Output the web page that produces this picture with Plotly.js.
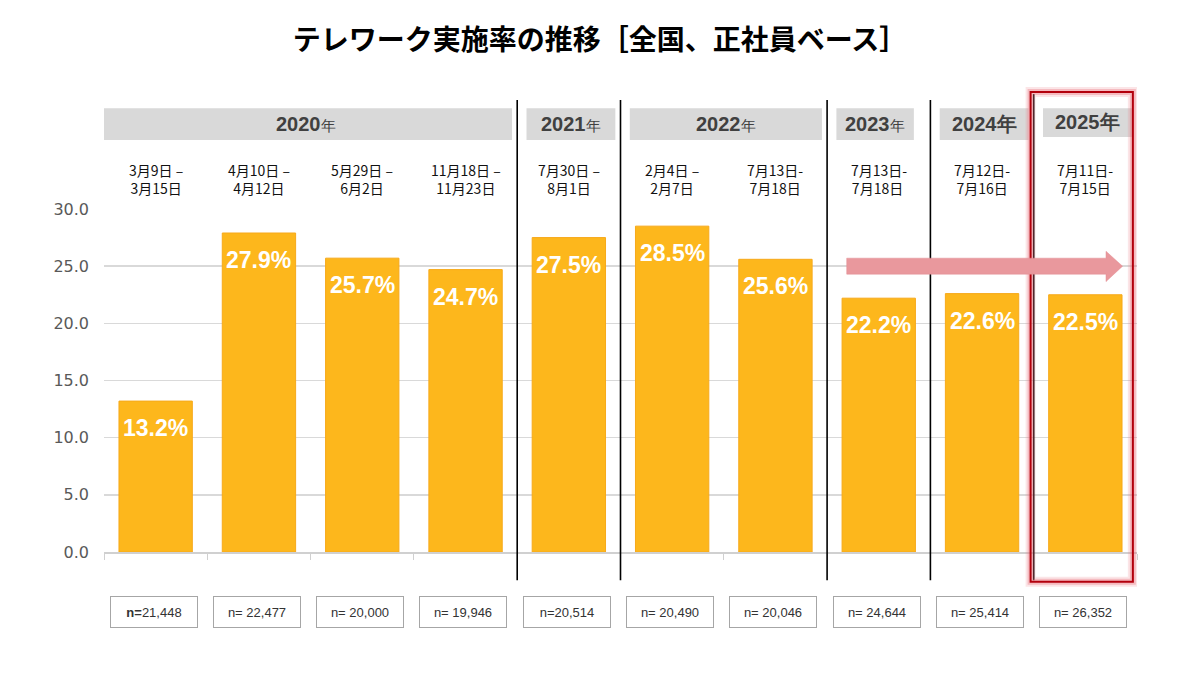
<!DOCTYPE html>
<html>
<head>
<meta charset="utf-8">
<script src="https://cdn.plot.ly/plotly-3.0.1.min.js"></script>
<style>
  html, body { margin: 0; padding: 0; background: #ffffff; }
  #chart { width: 1200px; height: 675px; }
</style>
</head>
<body>
<div id="chart"></div>
<script>
// 調査期間（2行）
const periods = [
    '3月9日 –<br>3月15日',
    '4月10日 –<br>4月12日',
    '5月29日 –<br>6月2日',
    '11月18日 –<br>11月23日',
    '7月30日 –<br>8月1日',
    '2月4日 –<br>2月7日',
    '7月13日-<br>7月18日',
    '7月13日-<br>7月18日 ',
    '7月12日-<br>7月16日',
    '7月11日-<br>7月15日'
];
// テレワーク実施率（%）
const rates = [13.2, 27.9, 25.7, 24.7, 27.5, 28.5, 25.6, 22.2, 22.6, 22.5];
// サンプル数
const samples = ['<b>n=</b>21,448', 'n= 22,477', 'n= 20,000', 'n= 19,946', 'n=20,514',
    'n= 20,490', 'n= 20,046', 'n= 24,644', 'n= 25,414', 'n= 26,352'];
// 年グループ
const years = ['2020', '2021', '2022', '2023', '2024', '2025'];
const yearFirst = [0, 4, 5, 7, 8, 9];
const yearLast = [3, 4, 6, 7, 8, 9];
const yearBoldSuffix = [false, false, false, false, true, true];

const yTicks = [0, 5, 10, 15, 20, 25, 30];

const cjk = '"Noto Sans CJK JP", "Noto Sans", sans-serif';
const narrow = '"Liberation Sans Narrow", "Arial Narrow", "Liberation Sans", sans-serif';

const barTrace = {
    type: 'bar',
    x: periods,
    y: rates,
    marker: { color: '#fdb71c', line: { color: '#f7a91a', width: 1 } },
    hoverinfo: 'skip',
    showlegend: false
};

const annotations = [];
const shapes = [];

// 棒の中の数値
rates.forEach((v, i) => {
    annotations.push({
        x: i, y: v, xref: 'x', yref: 'y',
        text: '<b>' + v.toFixed(1) + '%</b>',
        showarrow: false, yanchor: 'middle', yshift: -27,
        font: { family: '"Liberation Sans", Arial, sans-serif', size: 23, color: '#ffffff' }
    });
});

// 調査期間ラベル
periods.forEach((p, i) => {
    annotations.push({
        x: i, y: 1.087, xref: 'x', yref: 'paper',
        text: p, showarrow: false, align: 'center', yanchor: 'middle',
        font: { family: cjk, size: 14, color: '#111111' }
    });
});

// n= ボックス
samples.forEach((s, i) => {
    annotations.push({
        x: i - 0.02, y: -0.175, xref: 'x', yref: 'paper',
        text: s, showarrow: false, yanchor: 'middle',
        width: 78, height: 22, borderpad: 4,
        bordercolor: '#a6a6a6', borderwidth: 1,
        font: { family: narrow, size: 13, color: '#333333' }
    });
});

// 年ヘッダー
years.forEach((yr, k) => {
    const x0 = k === 0 ? -0.54 : yearFirst[k] - 0.41;
    const x1 = yearLast[k] + (k === 3 ? 0.34 : 0.45);
    shapes.push({
        type: 'rect', xref: 'x', yref: 'paper',
        x0: x0, x1: x1, y0: k === 5 ? 1.21 : 1.201, y1: 1.294,
        fillcolor: '#d9d9d9', line: { width: 0 }, layer: 'below'
    });
    const suffix = yearBoldSuffix[k] ? '<b>年</b>' : '<span style="font-size:15px">年</span>';
    annotations.push({
        x: (x0 + x1) / 2, y: k === 5 ? 1.254 : 1.247, xref: 'x', yref: 'paper',
        text: '<b>' + yr + '</b>' + suffix, showarrow: false, yanchor: 'middle',
        font: { family: '"Liberation Sans", Arial, sans-serif', size: 20, color: '#404040' }
    });
});

// 年の区切り線
yearLast.slice(0, -1).forEach((last, k) => {
    shapes.push({
        type: 'line', xref: 'x', yref: 'paper',
        x0: last + 0.5, x1: last + 0.5, y0: -0.082, y1: k === 4 ? 1.335 : 1.318,
        line: { color: '#000000', width: 1.6 }
    });
});

// 2025年の強調枠（ぼかし風）
[[10, 'rgba(235,110,120,0.18)'], [6, 'rgba(235,110,120,0.35)'], [2, '#b3000c']].forEach(([w, c]) => {
    shapes.push({
        type: 'rect', xref: 'x', yref: 'paper',
        x0: 8.47, x1: 9.46, y0: -0.087, y1: 1.341,
        line: { color: c, width: w }, fillcolor: 'rgba(0,0,0,0)'
    });
});

// 横ばいを示す矢印
shapes.push({
    type: 'path', xref: 'x', yref: 'y',
    path: 'M 6.69 25.7 L 9.2 25.7 L 9.2 26.3 L 9.36 25.0 L 9.2 23.65 L 9.2 24.3 L 6.69 24.3 Z',
    fillcolor: '#e9989d', line: { color: '#e38c92', width: 0.5 }
});

const layout = {
    width: 1200,
    height: 675,
    margin: { l: 104, r: 63, t: 209, b: 123 },
    paper_bgcolor: '#ffffff',
    plot_bgcolor: '#ffffff',
    bargap: 0.29,
    title: {
        text: '<b>テレワーク実施率の推移［全国、正社員ベース］</b>',
        x: 0.5, xanchor: 'center',
        y: 0.94, yanchor: 'middle',
        font: { family: cjk, size: 28, color: '#000000' }
    },
    xaxis: {
        type: 'category',
        range: [-0.5, 9.5],
        showticklabels: false,
        ticks: 'outside',
        tickson: 'boundaries',
        ticklen: 6,
        tickcolor: '#d0d0d0',
        showline: true,
        linecolor: '#d0d0d0',
        linewidth: 1.5,
        showgrid: false,
        fixedrange: true
    },
    yaxis: {
        range: [0, 30],
        tickvals: yTicks,
        tickformat: '.1f',
        showgrid: true,
        gridcolor: '#d9d9d9',
        gridwidth: 1.5,
        zeroline: false,
        ticks: '',
        ticklabelstandoff: 14,
        tickfont: { family: '"DejaVu Sans", sans-serif', size: 16, color: '#595959' },
        fixedrange: true
    },
    shapes: shapes,
    annotations: annotations
};

Plotly.newPlot('chart', [barTrace], layout, { displayModeBar: false, staticPlot: true });
</script>
</body>
</html>
